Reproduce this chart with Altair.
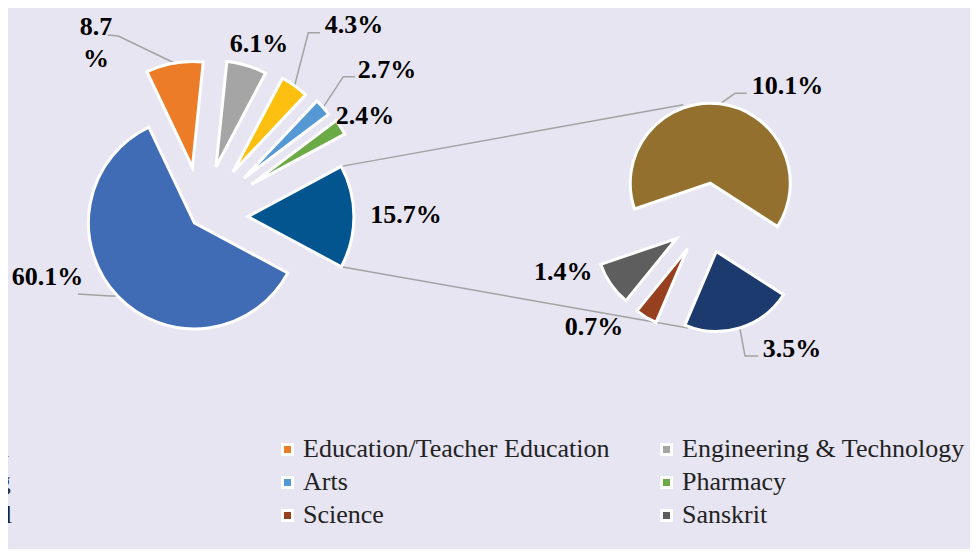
import math
import altair as alt
import pandas as pd

# ---------------- data ----------------
main_categories = ["General", "Education/Teacher Education", "Engineering & Technology",
                   "Nursing", "Arts", "Pharmacy", "Other"]
main_values = [60.1, 8.7, 6.1, 4.3, 2.7, 2.4, 15.7]
sub_categories = ["Medical", "Science", "Sanskrit", "Others"]
sub_values = [3.5, 0.7, 1.4, 10.1]
legend_categories = ["General", "Education/Teacher Education", "Engineering & Technology",
                     "Nursing", "Arts", "Pharmacy", "Medical", "Science", "Sanskrit"]
main_label_text = ["60.1%", "8.7\n%", "6.1%", "4.3%", "2.7%", "2.4%", "15.7%"]
sub_label_text = ["3.5%", "0.7%", "1.4%", "10.1%"]

# ---------------- styles / layout (page pixel coordinates) ----------------
BG = "#E7E5F2"
FONT = "'Liberation Serif', 'Times New Roman', Times, serif"
main_colors = ["#3F6CB5", "#EC7C27", "#A5A5A5", "#FDC010", "#5599D4", "#6BAA44", "#02558E"]
sub_colors = ["#1D3A6E", "#974020", "#5E5E5E", "#93702E"]
C1, R1, START1 = (200.9, 216.7), 106, 118.2
C2, R2, START2 = (706.0, 218.0), 80, 122.8
main_explode = [9, 50, 52, 55, 58, 60, 47]
sub_explode = [35, 36, 36, 35]
# label anchors (centre x, baseline y)
main_label_pos = [(47.5, 285), (96, 35), (259, 51.7), (354, 33.3), (387, 78.3), (365, 124), (406, 222.7)]
sub_label_pos = [(792, 356.7), (594, 335), (563.3, 280), (787.5, 94.3)]
# leader: (start dx, start dy, elbow dx, elbow dy) relative to label anchor
main_leaders = [(30.5, 9, 62.5, 11), (11.7, 0, 22.3, 1), None, (-34, -0.6, -45.7, -0.6),
                (-32, -1.6, -43.7, -1.6), None, None]
sub_leaders = [(-33.7, -0.7, -47, -0.7), None, None, (-40.8, -1, -52.5, -1)]
connector_angles = (341.0, 200.2)   # where the connectors meet the second pie
LEG_X = [-73, 303, 682]
LEG_Y0, LEG_DY = 457, 33
LEG_FONT_SIZE = 26


def pt(c, r, deg):
    a = math.radians(deg)
    return (c[0] + r * math.sin(a), c[1] - r * math.cos(a))


def pie(values, colors, start, center, explode):
    total = sum(values)
    rows, acc = [], 0.0
    for v, col, e in zip(values, colors, explode):
        a0 = start + acc / total * 360
        acc += v
        a1 = start + acc / total * 360
        mid = (a0 + a1) / 2
        cx, cy = pt(center, e, mid)
        rows.append(dict(value=v, a0=a0, a1=a1, mid=mid, cx=cx, cy=cy, color=col))
    return rows


main_rows = pie(main_values, main_colors, START1, C1, main_explode)
sub_rows = pie(sub_values, sub_colors, START2, C2, sub_explode)

# labels and leaders
labels, lines = [], []
lid = 0
for rows, texts, poss, leads, R in ((main_rows, main_label_text, main_label_pos, main_leaders, R1),
                                    (sub_rows, sub_label_text, sub_label_pos, sub_leaders, R2)):
    for row, t, p, ld in zip(rows, texts, poss, leads):
        labels.append(dict(text=t, x=p[0], y=p[1]))
        if ld:
            end = pt((row["cx"], row["cy"]), R, row["mid"])
            pts = [(p[0] + ld[0], p[1] + ld[1]), (p[0] + ld[2], p[1] + ld[3]), end]
            for k, (x, y) in enumerate(pts):
                lines.append(dict(id=lid, k=k, x=x, y=y))
            lid += 1

# connectors between the "Other" slice and the second pie
oth = main_rows[-1]
gold = sub_rows[-1]
navy = sub_rows[0]
p_top0 = pt((oth["cx"], oth["cy"]), R1, oth["a0"])
p_bot0 = pt((oth["cx"], oth["cy"]), R1, oth["a1"])
p_top1 = pt((gold["cx"], gold["cy"]), R2 + 3, connector_angles[0])
p_bot1 = pt((navy["cx"], navy["cy"]), R2 + 1.5, connector_angles[1])
for a, b in ((p_top0, p_top1), (p_bot0, p_bot1)):
    lines.append(dict(id=lid, k=0, x=a[0], y=a[1]))
    lines.append(dict(id=lid, k=1, x=b[0], y=b[1]))
    lid += 1

# legend
color_of = dict(zip(main_categories + sub_categories, main_colors + sub_colors))
leg = []
for i, name in enumerate(legend_categories):
    c, r = i % 3, i // 3
    leg.append(dict(name=name, color=color_of[name], tx=LEG_X[c], ty=LEG_Y0 + LEG_DY * r,
                    mx=LEG_X[c] - 15.5, my=LEG_Y0 + LEG_DY * r - 7.5))

df_main = pd.DataFrame(main_rows)
df_sub = pd.DataFrame(sub_rows)
df_lab = pd.DataFrame(labels)
df_lines = pd.DataFrame(lines)
df_leg = pd.DataFrame(leg)

xs = alt.Scale(domain=[8, 970], range=[0, 962], nice=False, zero=False)
ys = alt.Scale(domain=[8, 549], range=[0, 541], nice=False, zero=False)
ts = alt.Scale(domain=[0, 360], range=[0, 2 * math.pi], nice=False, zero=False)


def arcs(df, R):
    return alt.Chart(df).mark_arc(stroke="white", strokeWidth=3, radius=R).encode(
        x=alt.X("cx:Q", scale=xs, axis=None),
        y=alt.Y("cy:Q", scale=ys, axis=None),
        theta=alt.Theta("a0:Q", scale=ts, stack=None),
        theta2="a1:Q",
        color=alt.Color("color:N", scale=None),
    )


line_layer = alt.Chart(df_lines).mark_line(color="#A3A3A3", strokeWidth=1.5).encode(
    x=alt.X("x:Q", scale=xs, axis=None),
    y=alt.Y("y:Q", scale=ys, axis=None),
    detail="id:N",
    order="k:Q",
)

label_layer = alt.Chart(df_lab).mark_text(
    font=FONT, fontWeight="bold", fontSize=26, align="center",
    baseline="alphabetic", lineBreak="\n", lineHeight=31.7, color="#000000"
).encode(
    x=alt.X("x:Q", scale=xs, axis=None),
    y=alt.Y("y:Q", scale=ys, axis=None),
    text="text:N",
)

leg_marks = alt.Chart(df_leg).mark_square(size=100, stroke="white", strokeWidth=3, opacity=1).encode(
    x=alt.X("mx:Q", scale=xs, axis=None),
    y=alt.Y("my:Q", scale=ys, axis=None),
    color=alt.Color("color:N", scale=None),
)
leg_text = alt.Chart(df_leg).mark_text(
    font=FONT, fontSize=LEG_FONT_SIZE, align="left", baseline="alphabetic", color="#222222"
).encode(
    x=alt.X("tx:Q", scale=xs, axis=None),
    y=alt.Y("ty:Q", scale=ys, axis=None),
    text="name:N",
)

chart = alt.layer(
    line_layer, arcs(df_main, R1), arcs(df_sub, R2), label_layer, leg_marks, leg_text
).properties(
    width=962, height=541, padding=0, autosize="none", background=BG
).configure_view(stroke=None)

chart.save("out.html", embed_options={"renderer": "svg", "actions": False})
